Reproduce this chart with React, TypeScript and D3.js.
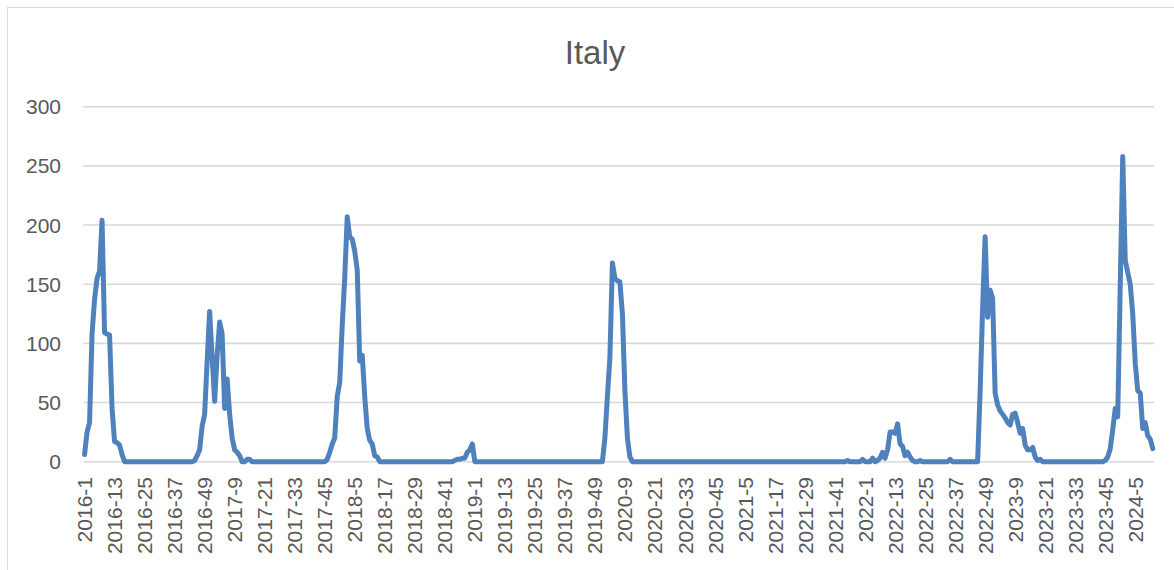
import React, { useRef, useEffect } from 'react';
import * as d3 from 'd3';

// weekly values, one array per year (52 weeks, 2024 partial)
const years = [2016, 2017, 2018, 2019, 2020, 2021, 2022, 2023, 2024];

const w2016 = [
  6, 25, 33, 108, 137, 155, 161, 204, 109, 108, 107, 45, 17,
  16, 14, 6, 0, 0, 0, 0, 0, 0, 0, 0, 0, 0,
  0, 0, 0, 0, 0, 0, 0, 0, 0, 0, 0, 0, 0,
  0, 0, 0, 0, 0, 1, 5, 10, 30, 40, 85, 127, 88,
];
const w2017 = [
  51, 90, 118, 108, 45, 70, 40, 20, 10, 8, 5, 0, 0,
  2, 2, 0, 0, 0, 0, 0, 0, 0, 0, 0, 0, 0,
  0, 0, 0, 0, 0, 0, 0, 0, 0, 0, 0, 0, 0,
  0, 0, 0, 0, 0, 0, 2, 8, 15, 20, 55, 67, 115,
];
const w2018 = [
  155, 207, 190, 188, 178, 162, 85, 90, 55, 28, 18, 15, 5,
  4, 0, 0, 0, 0, 0, 0, 0, 0, 0, 0, 0, 0,
  0, 0, 0, 0, 0, 0, 0, 0, 0, 0, 0, 0, 0,
  0, 0, 0, 0, 0, 1, 2, 2, 3, 3, 8, 10, 15,
];
const w2019 = [
  0, 0, 0, 0, 0, 0, 0, 0, 0, 0, 0, 0, 0,
  0, 0, 0, 0, 0, 0, 0, 0, 0, 0, 0, 0, 0,
  0, 0, 0, 0, 0, 0, 0, 0, 0, 0, 0, 0, 0,
  0, 0, 0, 0, 0, 0, 0, 0, 0, 0, 0, 0, 0,
];
const w2020 = [
  20, 55, 88, 168, 155, 153, 152, 125, 60, 20, 4, 0, 0,
  0, 0, 0, 0, 0, 0, 0, 0, 0, 0, 0, 0, 0,
  0, 0, 0, 0, 0, 0, 0, 0, 0, 0, 0, 0, 0,
  0, 0, 0, 0, 0, 0, 0, 0, 0, 0, 0, 0, 0,
];
const w2021 = [
  0, 0, 0, 0, 0, 0, 0, 0, 0, 0, 0, 0, 0,
  0, 0, 0, 0, 0, 0, 0, 0, 0, 0, 0, 0, 0,
  0, 0, 0, 0, 0, 0, 0, 0, 0, 0, 0, 0, 0,
  0, 0, 0, 0, 0, 0, 1, 0, 0, 0, 0, 0, 2,
];
const w2022 = [
  0, 0, 0, 3, 0, 1, 3, 8, 3, 10, 25, 25, 24,
  32, 15, 13, 5, 8, 4, 1, 0, 0, 1, 0, 0, 0,
  0, 0, 0, 0, 0, 0, 0, 0, 2, 0, 0, 0, 0,
  0, 0, 0, 0, 0, 0, 0, 60, 130, 190, 122, 145, 138,
];
const w2023 = [
  58, 48, 43, 40, 37, 33, 31, 40, 41, 33, 24, 28, 14,
  10, 10, 12, 4, 1, 2, 0, 0, 0, 0, 0, 0, 0,
  0, 0, 0, 0, 0, 0, 0, 0, 0, 0, 0, 0, 0,
  0, 0, 0, 0, 0, 1, 4, 11, 27, 45, 38, 148, 258,
];
const w2024 = [170, 160, 150, 125, 83, 60, 58, 28, 33, 22, 19, 11];

const series = [w2016, w2017, w2018, w2019, w2020, w2021, w2022, w2023, w2024];
const yTicks = [0, 50, 100, 150, 200, 250, 300];
const labelEvery = 12;

const categories = years.flatMap((yr, k) => series[k].map((_, j) => `${yr}-${j + 1}`));
const values = series.flat();

const App: React.FC = () => {
  const ref = useRef<SVGSVGElement>(null);

  useEffect(() => {
    const svg = d3.select(ref.current);
    svg.selectAll('*').remove();

    const left = 83.3;
    const right = 1154;
    const top = 106.7;
    const bottom = 461.7;
    const font = '"Liberation Sans", Arial, sans-serif';

    // chart border
    svg
      .append('rect')
      .attr('x', 7.5)
      .attr('y', 7.5)
      .attr('width', 1200)
      .attr('height', 600)
      .attr('fill', 'white')
      .attr('stroke', '#d9d9d9')
      .attr('stroke-width', 1);

    const x = d3.scaleBand<string>().domain(categories).range([left, right]);
    const y = d3.scaleLinear().domain([0, 300]).range([bottom, top]);
    const cx = (c: string) => (x(c) || 0) + x.bandwidth() / 2;

    // gridlines
    svg
      .append('g')
      .selectAll('line')
      .data(yTicks)
      .enter()
      .append('line')
      .attr('x1', left)
      .attr('x2', right)
      .attr('y1', (d) => y(d))
      .attr('y2', (d) => y(d))
      .attr('stroke', '#d9d9d9')
      .attr('stroke-width', 1.6);

    // y labels
    svg
      .append('g')
      .selectAll('text')
      .data(yTicks)
      .enter()
      .append('text')
      .text((d) => d)
      .attr('x', 61)
      .attr('y', (d) => y(d))
      .attr('dy', '0.36em')
      .attr('text-anchor', 'end')
      .attr('font-family', font)
      .attr('font-size', 21)
      .attr('fill', '#595959');

    // x labels
    const shown = categories.filter((_, i) => i % labelEvery === 0);
    svg
      .append('g')
      .selectAll('text')
      .data(shown)
      .enter()
      .append('text')
      .text((d) => d)
      .attr('transform', (d) => `translate(${cx(d)},477) rotate(-90)`)
      .attr('dy', '0.36em')
      .attr('text-anchor', 'end')
      .attr('font-family', font)
      .attr('font-size', 21)
      .attr('fill', '#595959');

    // line
    const line = d3
      .line<number>()
      .x((_, i) => cx(categories[i]))
      .y((d) => y(d));

    svg
      .append('path')
      .datum(values)
      .attr('d', line)
      .attr('fill', 'none')
      .attr('stroke', '#4f81bd')
      .attr('stroke-width', 5)
      .attr('stroke-linejoin', 'round')
      .attr('stroke-linecap', 'round');

    // title
    svg
      .append('text')
      .text('Italy')
      .attr('x', 595)
      .attr('y', 64)
      .attr('text-anchor', 'middle')
      .attr('font-family', font)
      .attr('font-size', 33)
      .attr('fill', '#595959');
  }, []);

  return (
    <svg
      ref={ref}
      width={1174}
      height={570}
      style={{ position: 'absolute', left: 0, top: 0 }}
    ></svg>
  );
};

export default App;
